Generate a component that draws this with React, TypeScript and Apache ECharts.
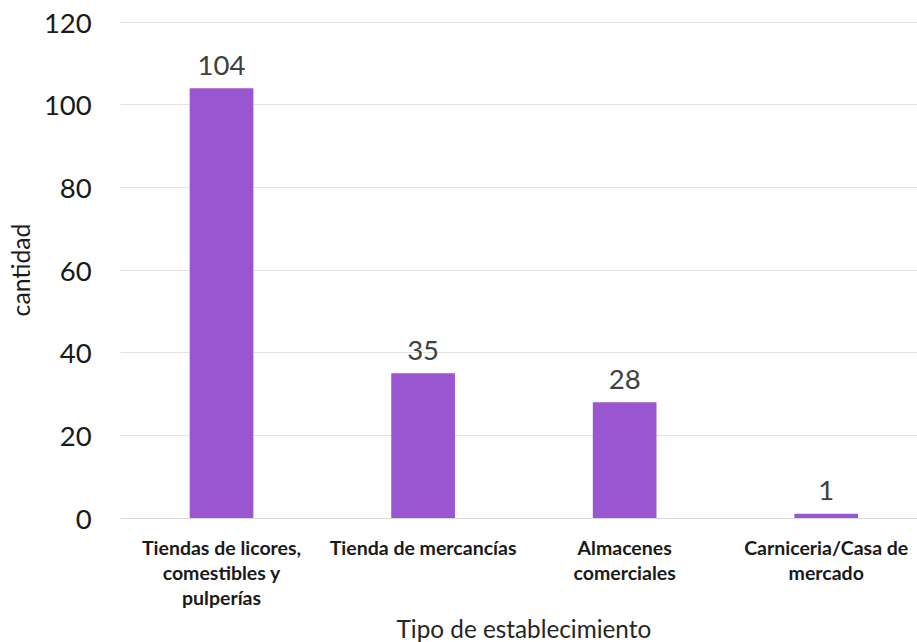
import React, { useEffect, useRef } from "react";
import * as echarts from "echarts";

const categories = [
  "Tiendas de licores,\ncomestibles y\npulperías",
  "Tienda de mercancías",
  "Almacenes\ncomerciales",
  "Carniceria/Casa de\nmercado",
];
const values = [104, 35, 28, 1];
const yTicks = { min: 0, max: 120, interval: 20 };

export default function App() {
  const ref = useRef<HTMLDivElement>(null);
  useEffect(() => {
    const chart = echarts.init(ref.current!, null, { renderer: "svg" });
    const font = "Lato, 'Open Sans', sans-serif";
    chart.setOption({
      animation: false,
      backgroundColor: "#ffffff",
      textStyle: { fontFamily: font },
      grid: { left: 117, top: 22, width: 810, height: 496, containLabel: false },
      xAxis: {
        type: "category",
        data: categories,
        name: "Tipo de establecimiento",
        nameLocation: "middle",
        nameGap: 98,
        nameTextStyle: { fontSize: 24.3, color: "#262626", fontFamily: font },
        axisLine: { show: true, lineStyle: { color: "#d9d9d9", width: 1 } },
        axisTick: { show: false },
        axisLabel: {
          interval: 0,
          fontSize: 19.5,
          fontWeight: "bold",
          color: "#1a1a1a",
          lineHeight: 25,
          margin: 16.5,
          fontFamily: font,
        },
      },
      yAxis: {
        type: "value",
        min: yTicks.min,
        max: yTicks.max,
        interval: yTicks.interval,
        name: "cantidad",
        nameLocation: "middle",
        nameGap: 84,
        nameRotate: 90,
        nameTextStyle: { fontSize: 24.7, color: "#1a1a1a", fontFamily: font },
        axisLine: { show: false },
        axisTick: { show: false },
        axisLabel: { fontSize: 27.5, color: "#1a1a1a", margin: 29, fontFamily: font },
        splitLine: { lineStyle: { color: "#e3e3e3", width: 1 } },
      },
      series: [
        {
          type: "bar",
          data: values,
          barWidth: "31.6%",
          itemStyle: { color: "#9a56d1" },
          label: {
            show: true,
            position: "top",
            distance: 10,
            fontSize: 27.5,
            color: "#404040",
            fontFamily: font,
          },
        },
      ],
    });
    return () => chart.dispose();
  }, []);
  return (
    <div
      ref={ref}
      style={{ position: "fixed", left: 0, top: 0, width: 940, height: 660 }}
    />
  );
}
